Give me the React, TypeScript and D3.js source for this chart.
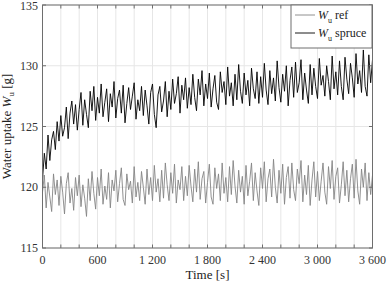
import React from "react";
import * as d3 from "d3";

const timeStep = 20;
const spruce = [
  120.6, 122.8, 121.5, 124.3, 122.2, 123.9, 124.6, 123.1, 125.4, 123.8,
  125.9, 124.2, 124.9, 126.6, 124.0, 126.1, 127.1, 125.2, 126.8, 124.7,
  126.4, 127.8, 125.1, 127.2, 126.0, 124.9, 127.9, 126.3, 128.3, 125.5,
  127.4, 126.1, 128.5, 125.8, 127.0, 128.1, 125.4, 127.7, 126.6, 128.7,
  125.7, 127.3, 128.0, 126.1, 128.4, 125.3, 126.9, 128.2, 126.4, 127.5,
  128.6, 125.6, 127.2, 126.3, 128.3, 125.9, 128.0, 126.7, 125.2, 127.8,
  128.5, 126.0, 124.9, 127.6, 128.3, 126.2, 127.1, 128.7, 125.8, 127.9,
  126.4, 128.9, 126.9, 127.7, 129.1, 126.1, 128.4, 127.2, 129.0, 126.5,
  128.2, 126.8, 129.3, 127.4, 126.3, 128.9, 127.6, 129.6, 126.7, 128.5,
  127.3, 129.4, 126.6, 128.1, 129.2, 127.0, 126.4, 129.5, 127.8, 128.7,
  126.8, 129.9, 127.5, 128.6, 126.7, 129.3, 127.2, 130.1, 127.9, 126.9,
  129.4, 127.6, 128.8, 126.7, 129.8, 128.1, 127.3, 129.5, 126.9, 129.1,
  127.4, 130.2, 128.0, 126.8, 129.6, 127.7, 129.0, 127.1, 130.4, 128.2,
  127.0, 129.3, 127.9, 130.0, 126.7, 128.8, 129.9, 127.4, 130.3, 127.8,
  128.6, 130.5, 127.2, 129.4, 128.0, 126.9, 130.1, 127.6, 129.8, 128.3,
  127.3, 130.6, 128.4, 129.2, 127.5, 130.0, 128.7, 127.2, 130.8, 128.1,
  129.5, 127.6, 130.4, 128.3, 127.2, 130.7, 128.9, 127.7, 130.2, 129.0,
  127.4, 131.0, 128.5, 129.6, 127.8, 131.3, 128.3, 127.5, 130.9, 128.6,
  130.5,
];
const reference = [
  119.6, 121.0, 118.3, 120.4, 119.2, 118.0, 121.1, 119.4, 120.6, 118.5,
  120.9, 119.6, 117.8, 120.3, 121.2, 118.7, 119.9, 118.1, 120.8, 119.3,
  121.0, 118.4, 120.2, 119.1, 117.6, 120.7, 118.9, 121.3, 119.5, 118.2,
  120.8, 119.3, 121.5, 118.6, 120.1, 119.0, 121.2, 118.3, 120.6, 119.7,
  121.4, 118.8, 120.3, 121.6, 119.0, 118.5, 121.1, 119.8, 120.5, 118.7,
  121.7, 119.2, 120.4, 118.9, 121.3, 120.0, 118.6, 121.5, 119.4, 120.8,
  118.9, 121.8, 119.6, 120.7, 118.8, 121.4, 119.1, 122.0, 120.2, 118.9,
  121.2, 119.5, 121.9, 118.7, 120.6, 119.8, 121.7, 118.9, 120.9, 119.3,
  121.8, 120.1, 118.8, 121.5, 119.6, 122.1, 119.0, 120.7, 121.3, 118.7,
  120.4, 121.9, 119.2, 118.6, 121.6, 119.9, 121.1, 118.9, 122.0, 119.5,
  120.8, 118.8, 121.7, 119.4, 122.2, 120.1, 118.7, 121.4, 119.6, 120.9,
  118.6, 121.8, 119.3, 120.5, 122.0, 118.9, 121.2, 119.7, 118.5, 121.6,
  119.9, 122.1, 118.8, 120.7, 121.5, 119.2, 122.3, 120.0, 118.7, 121.4,
  119.5, 121.9, 118.6, 120.8, 121.7, 119.1, 122.0, 119.8, 118.9, 121.5,
  120.3, 122.2, 118.8, 121.0, 119.4, 121.8, 118.5, 120.6, 122.1, 119.2,
  121.3, 118.9, 120.5, 122.0, 119.6, 118.6, 121.7, 119.9, 122.2, 119.0,
  120.9, 121.6, 118.7, 120.2, 122.1, 119.3, 121.4, 118.8, 120.7, 121.9,
  119.1, 122.3, 119.7, 118.6, 121.5, 120.0, 122.0, 118.9, 121.2, 119.4,
  121.0,
];
const xTickValues = [0, 600, 1200, 1800, 2400, 3000, 3600];
const xTickLabels = ["0", "600", "1 200", "1 800", "2 400", "3 000", "3 600"];
const yTickValues = [115, 120, 125, 130, 135];

const W = 387, H = 284;
const L = 42.5, R = 372.5, T = 5, B = 248;
const font = "'Liberation Serif', 'DejaVu Serif', serif";

export default function App() {
  const x = d3.scaleLinear().domain([0, 3600]).range([L, R]);
  const y = d3.scaleLinear().domain([115, 135]).range([B, T]);
  const line = d3
    .line<number>()
    .x((_, i) => x(i * timeStep))
    .y((d) => y(d));
  const minorX = d3.range(0, 3601, 200);
  const axisColor = "#6e6e6e";
  const gridColor = "#e6e6e6";
  return (
    <svg
      width={W}
      height={H}
      style={{ position: "absolute", left: 0, top: 0, background: "#fff" }}
      fontFamily={font}
    >
      <rect x={0} y={0} width={W} height={H} fill="#fff" />
      {minorX.map((v) => (
        <line key={"gx" + v} x1={x(v)} x2={x(v)} y1={T} y2={B} stroke={gridColor} strokeWidth={1} />
      ))}
      {yTickValues.map((v) => (
        <line key={"gy" + v} x1={L} x2={R} y1={y(v)} y2={y(v)} stroke={gridColor} strokeWidth={1} />
      ))}
      <path d={line(reference) || ""} fill="none" stroke="#858585" strokeWidth={0.9} strokeLinejoin="round" />
      <path d={line(spruce) || ""} fill="none" stroke="#000" strokeWidth={0.9} strokeLinejoin="round" />
      {minorX.map((v) => (
        <g key={"tx" + v}>
          <line x1={x(v)} x2={x(v)} y1={B} y2={B - 3.5} stroke={axisColor} />
          <line x1={x(v)} x2={x(v)} y1={T} y2={T + 3.5} stroke={axisColor} />
        </g>
      ))}
      {yTickValues.map((v) => (
        <g key={"ty" + v}>
          <line x1={L} x2={L + 3.5} y1={y(v)} y2={y(v)} stroke={axisColor} />
          <line x1={R} x2={R - 3.5} y1={y(v)} y2={y(v)} stroke={axisColor} />
        </g>
      ))}
      <rect x={L} y={T} width={R - L} height={B - T} fill="none" stroke={axisColor} strokeWidth={1} />
      {xTickValues.map((v, i) => (
        <text key={"lx" + v} x={x(v)} y={264} textAnchor="middle" fontSize={12} fill="#333">
          {xTickLabels[i]}
        </text>
      ))}
      {yTickValues.map((v) => (
        <text key={"ly" + v} x={38} y={Math.max(y(v) + 4, 10)} textAnchor="end" fontSize={12} fill="#333">
          {v}
        </text>
      ))}
      <text x={(L + R) / 2} y={279} textAnchor="middle" fontSize={13} fill="#222">
        Time [s]
      </text>
      <text
        transform={`translate(11, ${(T + B) / 2}) rotate(-90)`}
        textAnchor="middle"
        fontSize={13}
        fill="#222"
      >
        Water uptake <tspan fontStyle="italic">W</tspan>
        <tspan dy={3} fontSize={9}>u</tspan>
        <tspan dy={-3}> [g]</tspan>
      </text>
      <rect x={291} y={5} width={81} height={43} fill="#fff" stroke={axisColor} strokeWidth={1} />
      <line x1={295} x2={315} y1={15} y2={15} stroke="#858585" strokeWidth={0.9} />
      <line x1={295} x2={315} y1={33} y2={33} stroke="#000" strokeWidth={0.9} />
      <text x={318} y={19} fontSize={12} fill="#222">
        <tspan fontStyle="italic">W</tspan>
        <tspan dy={4} fontSize={8}>u</tspan>
        <tspan dy={-4}> ref</tspan>
      </text>
      <text x={318} y={37} fontSize={12} fill="#222">
        <tspan fontStyle="italic">W</tspan>
        <tspan dy={4} fontSize={8}>u</tspan>
        <tspan dy={-4}> spruce</tspan>
      </text>
    </svg>
  );
}
